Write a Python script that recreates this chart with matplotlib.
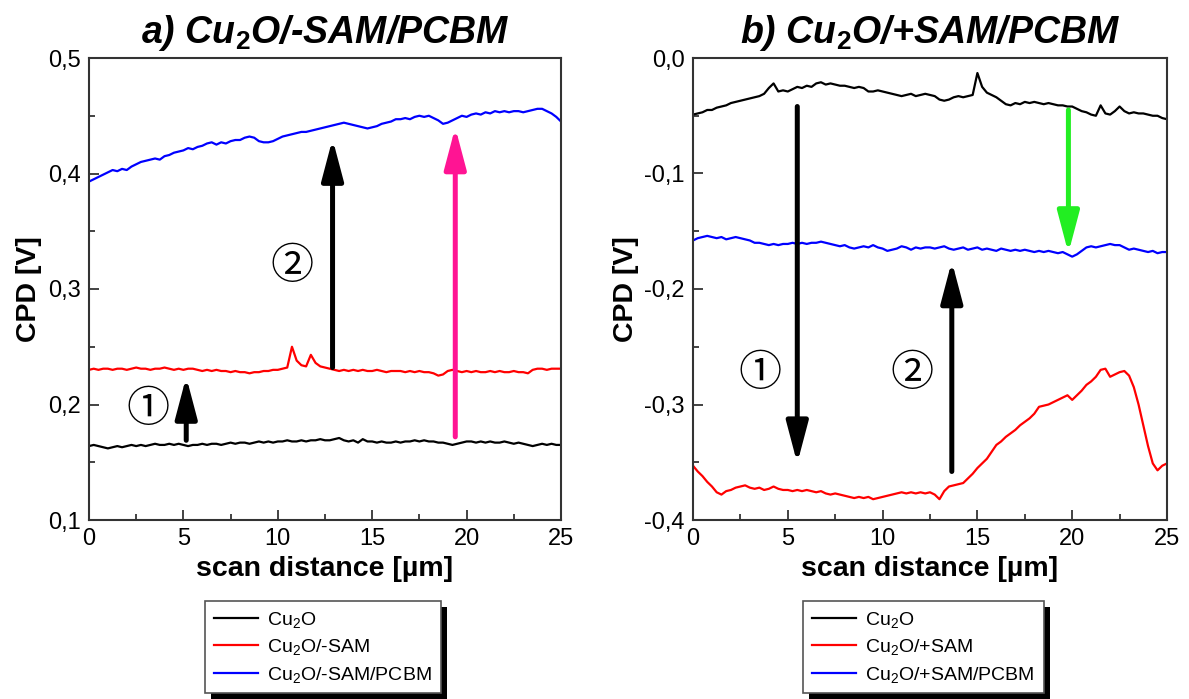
import numpy as np
import matplotlib
matplotlib.use("Agg")
import matplotlib.pyplot as plt
from matplotlib.ticker import MultipleLocator, FuncFormatter
from matplotlib.patches import Rectangle

plt.rcParams["font.family"] = ["Liberation Sans", "DejaVu Sans"]
plt.rcParams["mathtext.fontset"] = "custom"
plt.rcParams["mathtext.rm"] = "Liberation Sans"
plt.rcParams["mathtext.it"] = "Liberation Sans:italic"
plt.rcParams["mathtext.bf"] = "Liberation Sans:bold"

# ---------------------------------------------------------------- data
# scan positions (µm), 0.25 µm step
scan_x = np.linspace(0, 25, 101)

# panel a) Cu2O / -SAM / PCBM
a_cu2o = [
    0.164, 0.165, 0.164, 0.163, 0.162, 0.163, 0.164, 0.163, 0.164, 0.165,
    0.164, 0.165, 0.164, 0.165, 0.166, 0.165, 0.165, 0.166, 0.165, 0.166,
    0.165, 0.164, 0.165, 0.165, 0.166, 0.165, 0.166, 0.166, 0.165, 0.166,
    0.167, 0.166, 0.167, 0.167, 0.166, 0.167, 0.168, 0.167, 0.168, 0.167,
    0.168, 0.168, 0.169, 0.168, 0.168, 0.169, 0.168, 0.169, 0.169, 0.170,
    0.169, 0.169, 0.170, 0.171, 0.169, 0.168, 0.169, 0.167, 0.170, 0.168,
    0.168, 0.167, 0.168, 0.167, 0.167, 0.168, 0.167, 0.168, 0.168, 0.169,
    0.168, 0.169, 0.168, 0.168, 0.167, 0.167, 0.166, 0.165, 0.166, 0.167,
    0.168, 0.168, 0.167, 0.168, 0.167, 0.168, 0.167, 0.167, 0.168, 0.167,
    0.166, 0.167, 0.166, 0.165, 0.164, 0.165, 0.166, 0.165, 0.166, 0.165,
    0.165,
]
a_sam = [
    0.230, 0.231, 0.230, 0.231, 0.231, 0.230, 0.231, 0.231, 0.230, 0.231,
    0.232, 0.231, 0.231, 0.230, 0.231, 0.231, 0.232, 0.231, 0.230, 0.231,
    0.230, 0.231, 0.231, 0.230, 0.229, 0.230, 0.229, 0.230, 0.229, 0.229,
    0.228, 0.229, 0.228, 0.228, 0.227, 0.228, 0.228, 0.229, 0.229, 0.230,
    0.230, 0.231, 0.232, 0.250, 0.238, 0.234, 0.233, 0.243, 0.236, 0.233,
    0.232, 0.231, 0.230, 0.229, 0.230, 0.229, 0.230, 0.229, 0.230, 0.229,
    0.229, 0.230, 0.229, 0.228, 0.229, 0.229, 0.229, 0.228, 0.229, 0.228,
    0.229, 0.228, 0.228, 0.227, 0.225, 0.226, 0.229, 0.230, 0.229, 0.228,
    0.229, 0.228, 0.229, 0.228, 0.228, 0.229, 0.228, 0.229, 0.228, 0.228,
    0.229, 0.228, 0.228, 0.227, 0.230, 0.231, 0.231, 0.230, 0.231, 0.231,
    0.231,
]
a_pcbm = [
    0.393, 0.395, 0.397, 0.399, 0.401, 0.403, 0.402, 0.404, 0.403, 0.406,
    0.408, 0.410, 0.411, 0.412, 0.413, 0.412, 0.415, 0.416, 0.418, 0.419,
    0.420, 0.422, 0.421, 0.423, 0.424, 0.426, 0.427, 0.425, 0.427, 0.426,
    0.428, 0.429, 0.429, 0.431, 0.432, 0.431, 0.428, 0.427, 0.427, 0.428,
    0.430, 0.432, 0.433, 0.434, 0.435, 0.436, 0.436, 0.437, 0.438, 0.439,
    0.440, 0.441, 0.442, 0.443, 0.444, 0.443, 0.442, 0.441, 0.440, 0.439,
    0.440, 0.441, 0.443, 0.444, 0.445, 0.447, 0.447, 0.448, 0.447, 0.449,
    0.450, 0.449, 0.450, 0.448, 0.446, 0.443, 0.444, 0.446, 0.448, 0.450,
    0.449, 0.451, 0.452, 0.451, 0.453, 0.452, 0.454, 0.453, 0.454, 0.453,
    0.454, 0.454, 0.453, 0.454, 0.455, 0.456, 0.456, 0.454, 0.452, 0.449,
    0.445,
]

# panel b) Cu2O / +SAM / PCBM
b_cu2o = [
    -0.049, -0.048, -0.047, -0.045, -0.045, -0.043, -0.042, -0.041, -0.039, -0.038,
    -0.037, -0.036, -0.035, -0.034, -0.033, -0.031, -0.026, -0.022, -0.029, -0.028,
    -0.029, -0.027, -0.025, -0.026, -0.024, -0.025, -0.022, -0.021, -0.023, -0.022,
    -0.023, -0.024, -0.024, -0.025, -0.026, -0.025, -0.026, -0.029, -0.029, -0.028,
    -0.029, -0.030, -0.031, -0.032, -0.033, -0.032, -0.031, -0.033, -0.032, -0.031,
    -0.032, -0.033, -0.036, -0.037, -0.036, -0.034, -0.033, -0.034, -0.033, -0.032,
    -0.013, -0.025, -0.030, -0.032, -0.034, -0.037, -0.040, -0.041, -0.039, -0.040,
    -0.038, -0.039, -0.038, -0.039, -0.040, -0.039, -0.040, -0.041, -0.041, -0.042,
    -0.042, -0.044, -0.046, -0.047, -0.049, -0.050, -0.041, -0.048, -0.049, -0.046,
    -0.042, -0.046, -0.048, -0.047, -0.048, -0.048, -0.049, -0.050, -0.050, -0.052,
    -0.053,
]
b_sam = [
    -0.353, -0.358, -0.362, -0.367, -0.371, -0.376, -0.378, -0.375, -0.374, -0.372,
    -0.371, -0.370, -0.372, -0.373, -0.372, -0.374, -0.373, -0.371, -0.373, -0.374,
    -0.374, -0.375, -0.374, -0.375, -0.374, -0.375, -0.376, -0.375, -0.377, -0.378,
    -0.377, -0.378, -0.379, -0.380, -0.381, -0.380, -0.381, -0.380, -0.382, -0.381,
    -0.380, -0.379, -0.378, -0.377, -0.376, -0.377, -0.376, -0.377, -0.376, -0.377,
    -0.376, -0.378, -0.382, -0.375, -0.371, -0.370, -0.369, -0.368, -0.364, -0.360,
    -0.355, -0.351, -0.347, -0.341, -0.335, -0.332, -0.328, -0.325, -0.322, -0.318,
    -0.315, -0.312, -0.308, -0.302, -0.301, -0.300, -0.298, -0.296, -0.294, -0.292,
    -0.296, -0.292, -0.288, -0.283, -0.280, -0.276, -0.270, -0.269, -0.276, -0.274,
    -0.272, -0.271, -0.275, -0.285, -0.300, -0.318, -0.336, -0.351, -0.357, -0.353,
    -0.351,
]
b_pcbm = [
    -0.158, -0.156, -0.155, -0.154, -0.155, -0.156, -0.155, -0.157, -0.156, -0.155,
    -0.156, -0.157, -0.158, -0.160, -0.160, -0.161, -0.162, -0.161, -0.162, -0.161,
    -0.161, -0.160, -0.161, -0.160, -0.161, -0.160, -0.160, -0.159, -0.160, -0.161,
    -0.162, -0.163, -0.162, -0.164, -0.165, -0.164, -0.163, -0.164, -0.162, -0.164,
    -0.165, -0.167, -0.166, -0.165, -0.163, -0.164, -0.166, -0.164, -0.165, -0.164,
    -0.164, -0.165, -0.164, -0.163, -0.165, -0.166, -0.165, -0.164, -0.166, -0.165,
    -0.164, -0.166, -0.165, -0.166, -0.167, -0.165, -0.166, -0.167, -0.166, -0.167,
    -0.166, -0.167, -0.168, -0.167, -0.168, -0.167, -0.168, -0.169, -0.168, -0.170,
    -0.172, -0.170, -0.167, -0.164, -0.163, -0.164, -0.163, -0.162, -0.161, -0.162,
    -0.162, -0.164, -0.166, -0.165, -0.166, -0.167, -0.168, -0.167, -0.169, -0.168,
    -0.168,
]

titles = [r"a) Cu$_\mathbf{2}$O/-SAM/PCBM", r"b) Cu$_\mathbf{2}$O/+SAM/PCBM"]
labels_a = [r"Cu$_2$O", r"Cu$_2$O/-SAM", r"Cu$_2$O/-SAM/PCBM"]
labels_b = [r"Cu$_2$O", r"Cu$_2$O/+SAM", r"Cu$_2$O/+SAM/PCBM"]
ylims = [(0.1, 0.5), (-0.4, 0.0)]

# arrows: (x, tail, tip, colour)
arrows_a = [(5.15, 0.169, 0.224, "black"),
            (12.9, 0.232, 0.430, "black"),
            (19.4, 0.172, 0.440, "#ff1493")]
arrows_b = [(5.5, -0.042, -0.351, "black"),
            (13.65, -0.358, -0.176, "black"),
            (19.8, -0.045, -0.169, "#22ee22")]
steps_a = [(3.1, 0.195, "\u2460"), (10.75, 0.319, "\u2461")]
steps_b = [(3.55, -0.274, "\u2460"), (11.55, -0.274, "\u2461")]

series_colors = ["black", "red", "blue"]

# ---------------------------------------------------------------- figure
fig = plt.figure(figsize=(11.89, 6.99), dpi=100)
W, H = 1189, 699
ax_a = fig.add_axes([89 / W, (H - 520) / H, 472 / W, 462 / H])
ax_b = fig.add_axes([693 / W, (H - 520) / H, 474 / W, 462 / H])

comma = FuncFormatter(lambda v, p: f"{v:.1f}".replace(".", ",").replace("\u2212", "-"))


def style_axes(ax, ylim):
    ax.set_xlim(0, 25)
    ax.set_ylim(*ylim)
    ax.xaxis.set_major_locator(MultipleLocator(5))
    ax.xaxis.set_minor_locator(MultipleLocator(2.5))
    ax.yaxis.set_major_locator(MultipleLocator(0.1))
    ax.yaxis.set_minor_locator(MultipleLocator(0.05))
    ax.yaxis.set_major_formatter(comma)
    ax.tick_params(which="both", direction="in", top=False, right=False,
                   labelsize=17, width=1.2, color="#222222")
    ax.tick_params(which="major", length=7, pad=6)
    ax.tick_params(which="minor", length=4)
    for s in ax.spines.values():
        s.set_linewidth(1.5)
        s.set_color("#333333")
    ax.set_xlabel("scan distance [\u00b5m]", fontsize=20.5, fontweight="bold", labelpad=4)
    ax.set_ylabel("CPD [V]", fontsize=20.5, fontweight="bold", labelpad=4)


def draw_arrow(ax, x, y0, y1, color):
    ax.annotate("", xy=(x, y1), xytext=(x, y0),
                arrowprops=dict(arrowstyle="-|>,head_length=1.25,head_width=0.33",
                                mutation_scale=20, lw=3.6, color=color,
                                shrinkA=0, shrinkB=0), zorder=5)


panels = [
    (ax_a, [a_cu2o, a_sam, a_pcbm], labels_a, arrows_a, steps_a, 0, (205, 601)),
    (ax_b, [b_cu2o, b_sam, b_pcbm], labels_b, arrows_b, steps_b, 1, (803, 601)),
]

for ax, series, labels, arrows, steps, k, (lx, ly) in panels:
    handles = []
    for vals, col, lab in zip(series, series_colors, labels):
        h, = ax.plot(scan_x, vals, color=col, lw=1.6, label=lab)
        handles.append(h)
    style_axes(ax, ylims[k])
    ax.set_title(titles[k], fontsize=27, fontweight="bold", fontstyle="italic", pad=11)
    for x, y0, y1, col in arrows:
        draw_arrow(ax, x, y0, y1, col)
    for x, y, s in steps:
        ax.text(x, y, s, fontsize=31, ha="center", va="center",
                family=["Noto Sans CJK JP", "DejaVu Sans"])
    leg = fig.legend(handles=handles, loc="upper left",
                     bbox_to_anchor=(lx / W, 1 - ly / H), fontsize=14,
                     frameon=True, fancybox=False, framealpha=1,
                     edgecolor="#555555", handlelength=2.3, handletextpad=0.45,
                     labelspacing=0.38, borderpad=0.45, borderaxespad=0)
    leg.get_frame().set_linewidth(1.2)
    leg.set_zorder(6)

# black drop shadows behind the legend boxes
fig.canvas.draw()
for leg in fig.legends:
    bb = leg.get_window_extent()
    fig.patches.append(Rectangle((bb.x0 + 6, bb.y0 - 6), bb.width, bb.height,
                                 transform=None, facecolor="black",
                                 edgecolor="none", zorder=5.5, figure=fig))

fig.savefig("out.png", dpi=100)
